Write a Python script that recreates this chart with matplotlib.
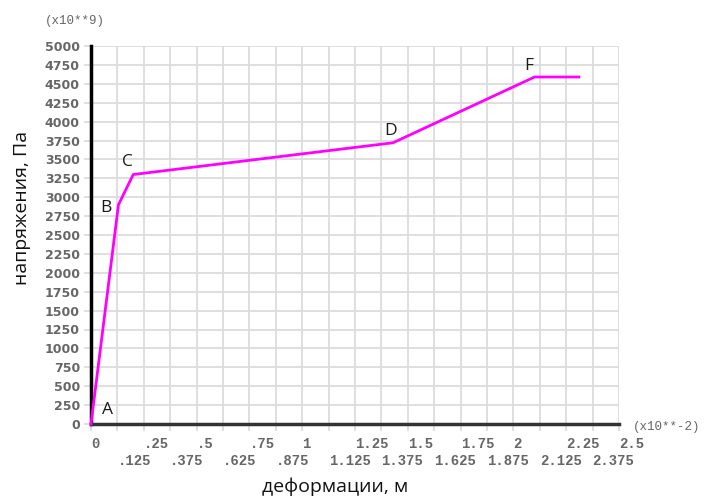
import matplotlib
matplotlib.use("Agg")
import matplotlib.pyplot as plt
import numpy as np

# data
strain = [0.0, 0.13, 0.20, 1.43, 2.10, 2.31]
stress = [0, 2900, 3300, 3720, 4590, 4590]
point_labels = ["A", "B", "C", "D", "F"]
point_idx = [0, 1, 2, 3, 4]
label_offsets = [(8, 4), (-5, -8), (-4, 3), (-2, 3), (-4, 2)]

x_major = [0, 0.25, 0.5, 0.75, 1, 1.25, 1.5, 1.75, 2, 2.25, 2.5]
x_major_lbl = ["0", ".25", ".5", ".75", "1", "1.25", "1.5", "1.75", "2", "2.25", "2.5"]
x_minor = [0.125, 0.375, 0.625, 0.875, 1.125, 1.375, 1.625, 1.875, 2.125, 2.375]
x_minor_lbl = [".125", ".375", ".625", ".875", "1.125", "1.375", "1.625", "1.875", "2.125", "2.375"]
y_ticks = list(range(0, 5001, 250))

W, H = 705, 500
fig = plt.figure(figsize=(W / 100, H / 100), dpi=100)
ax = fig.add_axes([91 / W, 1 - 424 / H, (619 - 91) / W, (424 - 46) / H])

ax.set_xlim(0, 2.5)
ax.set_ylim(0, 5000)

grid_c = "#dcdcdc"
all_x = sorted(x_major + x_minor)
for xv in all_x:
    if xv > 0:
        ax.axvline(xv, color=grid_c, lw=1.3, zorder=0)
for yv in y_ticks:
    if yv > 0:
        ax.axhline(yv, color=grid_c, lw=1.3, zorder=0)

ax.set_xticks(all_x)
ax.set_xticklabels([])
ax.set_yticks(y_ticks)
ax.set_yticklabels([str(v) for v in y_ticks], fontsize=9, color="#666666",
                   family="DejaVu Sans", fontweight="bold")
ax.tick_params(axis="both", direction="out", length=5, width=1.3, color=grid_c, pad=3)

for s in ["top", "right"]:
    ax.spines[s].set_visible(False)
ax.spines["left"].set_linewidth(2.5)
ax.spines["left"].set_color("black")
ax.spines["bottom"].set_linewidth(2.5)
ax.spines["bottom"].set_color("#333333")
for s in ["left", "bottom"]:
    ax.spines[s].set_zorder(3)

ax.plot(strain, stress, color="#ff00ff", lw=2.0, zorder=4, clip_on=False)

for lbl, i, (dx, dy) in zip(point_labels, point_idx, label_offsets):
    if lbl == "A":
        ha = "left"
    elif lbl == "B":
        ha = "right"
    else:
        ha = "center"
    ax.annotate(lbl, (strain[i], stress[i]), xytext=(dx, dy), textcoords="offset points",
                ha=ha, va="bottom",
                fontsize=12.5, color="#1a1a1a", family="Open Sans", zorder=5)

trans = ax.get_xaxis_transform()
for xv, t in zip(x_major, x_major_lbl):
    ax.text(xv, -0.035, t, transform=trans, ha="left", va="top",
            fontsize=10, color="#666666", family="Liberation Mono", fontweight="bold")
for xv, t in zip(x_minor, x_minor_lbl):
    ax.text(xv, -0.08, t, transform=trans, ha="left", va="top",
            fontsize=10, color="#666666", family="Liberation Mono", fontweight="bold")

fig.text(45 / W, 1 - 21 / H, "(x10**9)", ha="left", va="center",
         fontsize=9, color="#666666", family="Liberation Mono")
fig.text(633 / W, 1 - 427 / H, "(x10**-2)", ha="left", va="center",
         fontsize=9, color="#666666", family="Liberation Mono")

fig.text(22 / W, 1 - 208 / H, "напряжения, Па", rotation=90, ha="center", va="center",
         fontsize=14, color="#111111", family="Open Sans")
fig.text(335 / W, 1 - 487 / H, "деформации, м", ha="center", va="center",
         fontsize=14, color="#111111", family="Open Sans")

fig.savefig("out.png", dpi=100)
